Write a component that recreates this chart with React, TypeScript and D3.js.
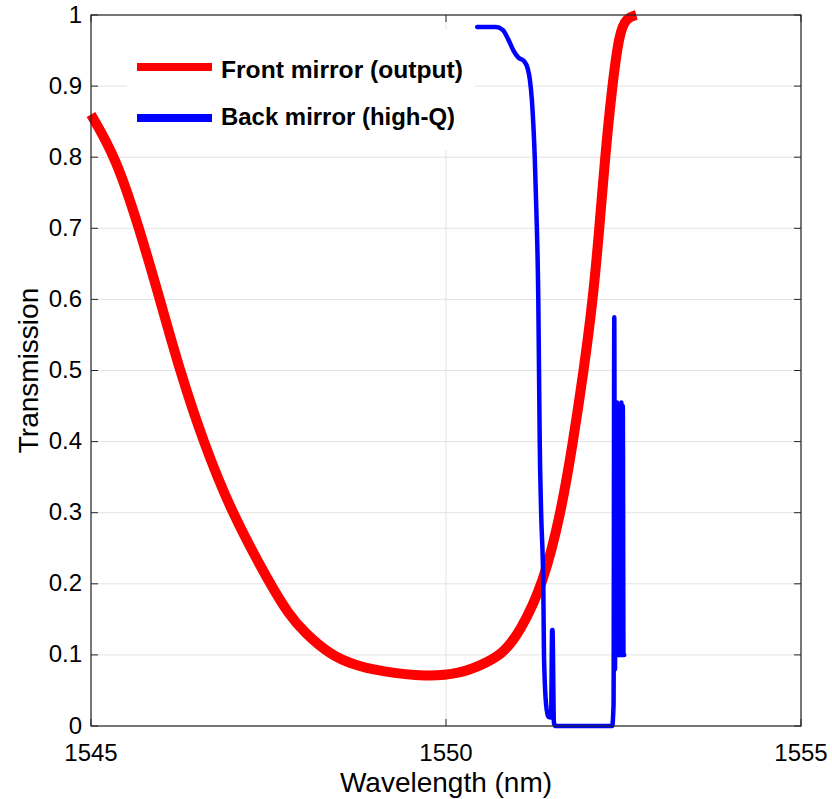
import React from "react";
import * as d3 from "d3";

const xTicks = [1545, 1550, 1555];
const yTicks = [0, 0.1, 0.2, 0.3, 0.4, 0.5, 0.6, 0.7, 0.8, 0.9, 1];
const yTickLabels = ["0", "0.1", "0.2", "0.3", "0.4", "0.5", "0.6", "0.7", "0.8", "0.9", "1"];

const frontWl = [1545, 1545.35, 1545.68, 1545.97, 1546.25, 1546.58, 1546.98, 1547.52, 1547.78, 1548.0, 1548.37, 1548.7, 1549.07, 1549.73, 1550.2, 1550.48, 1550.79, 1551.04, 1551.37, 1551.62, 1551.79, 1551.94, 1552.07, 1552.16, 1552.24, 1552.34, 1552.44, 1552.54, 1552.68];
const frontT = [0.86, 0.8, 0.7, 0.6, 0.5, 0.4, 0.3, 0.2, 0.158, 0.132, 0.1, 0.086, 0.077, 0.069, 0.074, 0.085, 0.1, 0.132, 0.2, 0.3, 0.4, 0.5, 0.6, 0.7, 0.8, 0.9, 0.975, 0.996, 1.0];

const backWl = [1550.44, 1550.7, 1550.8, 1550.88, 1550.95, 1551.02, 1551.1, 1551.15, 1551.18, 1551.21, 1551.25, 1551.28, 1551.3, 1551.31, 1551.32, 1551.34, 1551.37, 1551.38, 1551.41, 1551.44, 1551.48, 1551.495, 1551.5, 1551.52, 1551.54, 1552.34, 1552.36, 1552.37, 1552.38, 1552.39, 1552.4, 1552.41, 1552.42, 1552.43, 1552.44, 1552.45, 1552.46, 1552.47, 1552.48, 1552.49, 1552.5, 1552.51];
const backT = [0.983, 0.983, 0.979, 0.965, 0.95, 0.94, 0.935, 0.925, 0.91, 0.88, 0.8, 0.7, 0.6, 0.5, 0.4, 0.3, 0.2, 0.1, 0.03, 0.013, 0.012, 0.135, 0.135, 0.005, 0, 0, 0.03, 0.575, 0.08, 0.45, 0.1, 0.455, 0.1, 0.45, 0.1, 0.45, 0.1, 0.455, 0.1, 0.45, 0.1, 0.1];

const legendLabels = ["Front mirror (output)", "Back mirror (high-Q)"];

export default function App() {
  const left = 91, right = 801, top = 15, bottom = 726;
  const x = d3.scaleLinear().domain([1545, 1555]).range([left, right]);
  const y = d3.scaleLinear().domain([0, 1]).range([bottom, top]);

  const frontData = frontWl.map((w, i) => [w, frontT[i]] as [number, number]);
  const backData = backWl.map((w, i) => [w, backT[i]] as [number, number]);

  const redLine = d3.line<[number, number]>().x(d => x(d[0])).y(d => y(d[1])).curve(d3.curveBasis);
  const blueLine = d3.line<[number, number]>().x(d => x(d[0])).y(d => y(d[1])).curve(d3.curveMonotoneX);

  const axisColor = "#262626";
  const gridColor = "#e3e3e3";
  const font = "'Liberation Sans', Arial, Helvetica, sans-serif";

  return (
    <svg width={832} height={799} style={{ position: "absolute", left: 0, top: 0, background: "#fff" }}>
      <rect x={0} y={0} width={832} height={799} fill="#fff" />
      {yTicks.map(t => (
        <line key={"gy" + t} x1={left} x2={right} y1={y(t)} y2={y(t)} stroke={gridColor} strokeWidth={1} />
      ))}
      {xTicks.map(t => (
        <line key={"gx" + t} x1={x(t)} x2={x(t)} y1={top} y2={bottom} stroke={gridColor} strokeWidth={1} />
      ))}
      <rect x={127} y={30} width={348} height={120} fill="#fff" />
      <path d={redLine(frontData) || ""} fill="none" stroke="#ff0000" strokeWidth={10} strokeLinejoin="round" />
      <path d={blueLine(backData) || ""} fill="none" stroke="#0000ff" strokeWidth={4.5} strokeLinejoin="round" strokeLinecap="round" />
      <rect x={left} y={top} width={right - left} height={bottom - top} fill="none" stroke={axisColor} strokeWidth={1.2} />
      {yTicks.map(t => (
        <g key={"ty" + t}>
          <line x1={left} x2={left + 7} y1={y(t)} y2={y(t)} stroke={axisColor} />
          <line x1={right} x2={right - 7} y1={y(t)} y2={y(t)} stroke={axisColor} />
        </g>
      ))}
      {xTicks.map(t => (
        <g key={"tx" + t}>
          <line x1={x(t)} x2={x(t)} y1={bottom} y2={bottom - 7} stroke={axisColor} />
          <line x1={x(t)} x2={x(t)} y1={top} y2={top + 7} stroke={axisColor} />
        </g>
      ))}
      {yTicks.map((t, i) => (
        <text key={"ly" + t} x={left - 9} y={y(t) + 7.5} textAnchor="end" fontFamily={font} fontSize={24} fill="#000">
          {yTickLabels[i]}
        </text>
      ))}
      {xTicks.map(t => (
        <text key={"lx" + t} x={x(t)} y={760.5} textAnchor="middle" fontFamily={font} fontSize={24} fill="#000">
          {String(t)}
        </text>
      ))}
      <text x={446} y={792} textAnchor="middle" fontFamily={font} fontSize={28} fill="#000">Wavelength (nm)</text>
      <text transform={`translate(38, ${(top + bottom) / 2}) rotate(-90)`} textAnchor="middle" fontFamily={font} fontSize={28} fill="#000">Transmission</text>
      <line x1={137} x2={212} y1={67} y2={67} stroke="#ff0000" strokeWidth={8} />
      <line x1={137} x2={212} y1={118} y2={118} stroke="#0000ff" strokeWidth={8} />
      <text x={221} y={78} fontFamily={font} fontWeight="bold" fontSize={24} fill="#000" textLength={242} lengthAdjust="spacingAndGlyphs">{legendLabels[0]}</text>
      <text x={221} y={125} fontFamily={font} fontWeight="bold" fontSize={24} fill="#000" textLength={234} lengthAdjust="spacingAndGlyphs">{legendLabels[1]}</text>
    </svg>
  );
}
